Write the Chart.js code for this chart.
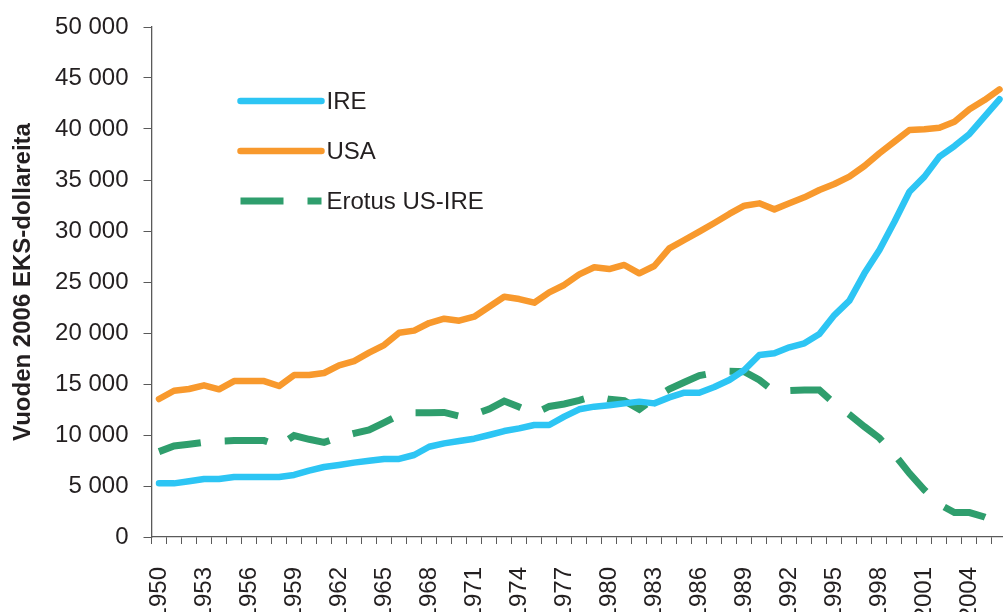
<!DOCTYPE html>
<html>
<head>
<meta charset="utf-8">
<script src="https://cdn.jsdelivr.net/npm/chart.js@4.4.1/dist/chart.umd.min.js"></script>
<style>
  html, body { margin: 0; padding: 0; background: #fff; overflow: hidden; }
  #wrap { width: 1007px; height: 612px; }
</style>
</head>
<body>
<div id="wrap"><canvas id="myChart" width="1007" height="612"></canvas></div>
<script>
// years on the x axis
const years = ['1950','1951','1952','1953','1954','1955','1956','1957','1958','1959',
  '1960','1961','1962','1963','1964','1965','1966','1967','1968','1969',
  '1970','1971','1972','1973','1974','1975','1976','1977','1978','1979',
  '1980','1981','1982','1983','1984','1985','1986','1987','1988','1989',
  '1990','1991','1992','1993','1994','1995','1996','1997','1998','1999',
  '2000','2001','2002','2003','2004','2005','2006'];

const ire = [5260,5260,5460,5690,5690,5880,5880,5880,5880,6080,
  6500,6860,7060,7290,7480,7650,7650,8040,8850,9180,
  9410,9640,10000,10390,10650,10980,10980,11800,12520,12780,
  12910,13100,13270,13100,13690,14150,14150,14700,15390,16370,
  17840,18010,18600,18990,19900,21760,23170,25850,28140,30910,
  33850,35330,37290,38330,39510,41210,42910];

const usa = [13530,14340,14510,14870,14480,15290,15290,15290,14800,15880,
  15880,16080,16830,17250,18070,18820,20030,20230,20980,21400,
  21210,21600,22580,23560,23330,22970,23990,24710,25750,26440,
  26270,26670,25850,26570,28300,29120,29930,30780,31670,32480,
  32710,32120,32710,33300,34020,34610,35330,36370,37620,38760,
  39900,39970,40130,40720,41930,42840,43890];

const erotus = [8370,8920,9090,9290,9400,9450,9450,9450,8950,9950,
  9580,9280,9770,10160,10490,11210,11950,12190,12190,12210,
  11860,12000,12550,13330,12740,12100,12800,13040,13400,13820,
  13500,13370,12520,13600,14500,15170,15820,16100,16250,16210,
  15400,14250,14350,14410,14410,13100,12000,10820,9700,8100,
  6240,4610,3200,2390,2390,1960,1340];

const yTicks = [0,5000,10000,15000,20000,25000,30000,35000,40000,45000,50000];

const BLUE = '#2dc5f4';
const ORANGE = '#f8992d';
const GREEN = '#2f9e6d';
const TEXT = '#231f20';
const AXIS = '#5a5a5a';
const FONT = "'Liberation Sans', Arial, sans-serif";

function fmt(v) {
  return String(v).replace(/\B(?=(\d{3})+(?!\d))/g, ' ');
}

// legend drawn inside the plot, like the original
const innerLegend = {
  id: 'innerLegend',
  afterDraw(chart) {
    const ctx = chart.ctx;
    const ca = chart.chartArea;
    const x0 = ca.left + 89, x1 = ca.left + 170, tx = ca.left + 175;
    const rows = [ca.top + 74, ca.top + 124, ca.top + 174];
    ctx.save();
    chart.data.datasets.forEach(function (ds, i) {
      const y = rows[i];
      ctx.beginPath();
      ctx.strokeStyle = ds.borderColor;
      ctx.lineWidth = ds.borderWidth;
      ctx.lineCap = ds.borderCapStyle;
      ctx.setLineDash(ds.borderDash || []);
      ctx.moveTo(x0, y);
      ctx.lineTo(x1, y);
      ctx.stroke();
      ctx.setLineDash([]);
      ctx.fillStyle = TEXT;
      ctx.font = '24px ' + FONT;
      ctx.textBaseline = 'middle';
      ctx.textAlign = 'left';
      ctx.fillText(ds.label, tx, y + 1);
    });
    ctx.restore();
  }
};

new Chart('myChart', {
  type: 'line',
  data: {
    labels: years,
    datasets: [
      {
        label: 'IRE', data: ire, borderColor: BLUE, backgroundColor: BLUE,
        borderWidth: 6.5, borderCapStyle: 'round', borderJoinStyle: 'round',
        pointRadius: 0, tension: 0, fill: false
      },
      {
        label: 'USA', data: usa, borderColor: ORANGE, backgroundColor: ORANGE,
        borderWidth: 6.5, borderCapStyle: 'round', borderJoinStyle: 'round',
        pointRadius: 0, tension: 0, fill: false
      },
      {
        label: 'Erotus US-IRE', data: erotus, borderColor: GREEN, backgroundColor: GREEN,
        borderWidth: 7, borderCapStyle: 'butt', borderJoinStyle: 'miter', borderDash: [43, 24],
        pointRadius: 0, tension: 0, fill: false
      }
    ]
  },
  options: {
    responsive: false,
    animation: false,
    devicePixelRatio: 1,
    layout: { padding: { top: 27, left: 0, right: 0, bottom: 0 } },
    plugins: {
      legend: { display: false },
      tooltip: { enabled: false },
      title: { display: false }
    },
    scales: {
      x: {
        type: 'category',
        offset: true,
        grid: { display: true, offset: true, drawOnChartArea: false, drawTicks: true, tickLength: 7, color: AXIS, lineWidth: 1 },
        border: { display: true, color: AXIS, width: 1.3 },
        ticks: {
          autoSkip: false, maxRotation: 90, minRotation: 90, padding: 23,
          color: TEXT, font: { family: FONT, size: 24 },
          callback: function (val, i) { return i % 3 === 0 ? years[i] : ''; }
        },
        afterFit: function (scale) {
          scale.height = 75;
          scale.paddingLeft = 0;
          scale.paddingRight = 0;
        }
      },
      y: {
        min: 0, max: 50000,
        afterBuildTicks: function (scale) {
          scale.ticks = yTicks.map(function (v) { return { value: v }; });
        },
        grid: { display: true, drawOnChartArea: false, drawTicks: true, tickLength: 8, color: AXIS, lineWidth: 1 },
        border: { display: true, color: AXIS, width: 1.3 },
        ticks: {
          padding: 15, color: TEXT, font: { family: FONT, size: 24 },
          callback: function (v) { return fmt(v); }
        },
        title: {
          display: true, text: 'Vuoden 2006 EKS-dollareita', color: TEXT,
          font: { family: FONT, size: 24, weight: 'bold' },
          padding: { top: 9, bottom: 0 }
        },
        afterFit: function (scale) {
          scale.width = 151.5;
          scale.paddingTop = 0;
          scale.paddingBottom = 0;
        }
      }
    }
  },
  plugins: [innerLegend]
});
</script>
</body>
</html>
